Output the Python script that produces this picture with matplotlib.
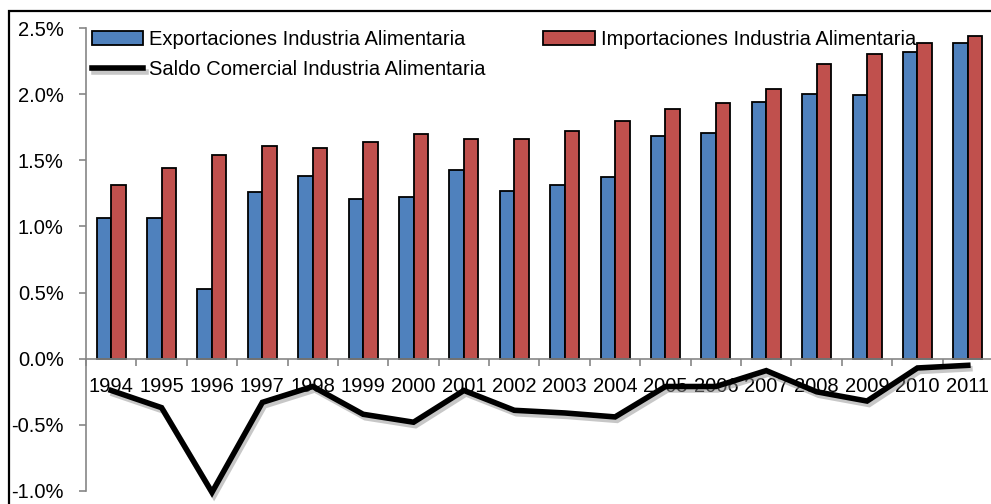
import numpy as np
import matplotlib
matplotlib.use("Agg")
import matplotlib.pyplot as plt
import matplotlib.patheffects as pe
from matplotlib.patches import Rectangle
from matplotlib.ticker import FuncFormatter

plt.rcParams['font.family'] = ['Liberation Sans', 'DejaVu Sans']

# Data (percent)
years = ['1994', '1995', '1996', '1997', '1998', '1999', '2000', '2001', '2002',
         '2003', '2004', '2005', '2006', '2007', '2008', '2009', '2010', '2011']
exportaciones = [1.06, 1.06, 0.53, 1.26, 1.38, 1.21, 1.22, 1.43, 1.27,
                 1.31, 1.37, 1.68, 1.71, 1.94, 2.00, 1.99, 2.32, 2.39]
importaciones = [1.31, 1.44, 1.54, 1.61, 1.59, 1.64, 1.70, 1.66, 1.66,
                 1.72, 1.80, 1.89, 1.93, 2.04, 2.23, 2.30, 2.39, 2.44]
saldo = [-0.24, -0.37, -1.01, -0.33, -0.21, -0.42, -0.48, -0.24, -0.39,
         -0.41, -0.44, -0.21, -0.21, -0.09, -0.25, -0.32, -0.07, -0.05]

blue = '#4F81BD'
red = '#C0504D'
gray = '#868686'
fs = 14.5

fig = plt.figure(figsize=(9.91, 5.04), dpi=100)
ax = fig.add_axes([86 / 991, 1 - 491 / 504, (993 - 86) / 991, (491 - 28) / 504])

x = np.arange(len(years))
w = 0.288
ax.bar(x - w / 2, exportaciones, w, color=blue, edgecolor='black', linewidth=1.3,
       label='Exportaciones Industria Alimentaria', zorder=2)
ax.bar(x + w / 2, importaciones, w, color=red, edgecolor='black', linewidth=1.3,
       label='Importaciones Industria Alimentaria', zorder=2)
ax.plot(x, saldo, color='black', linewidth=4.0, solid_joinstyle='miter', clip_on=False,
        label='Saldo Comercial Industria Alimentaria', zorder=4,
        path_effects=[pe.SimpleLineShadow(offset=(1.5, -2.5), shadow_color='#909090', alpha=0.5),
                      pe.Normal()])

ax.set_xlim(-0.5, len(years) - 0.5)
ax.set_ylim(-1.0, 2.5)
ax.set_yticks(np.arange(-1.0, 2.51, 0.5))
ax.yaxis.set_major_formatter(FuncFormatter(lambda v, p: f'{v:.1f}%'))

ax.set_xticks(x)
ax.set_xticklabels(years)
ax.set_xticks(np.arange(-0.5, len(years), 1), minor=True)

for s in ['top', 'right']:
    ax.spines[s].set_visible(False)
ax.spines['bottom'].set_position(('data', 0))
ax.spines['left'].set_color(gray)
ax.spines['bottom'].set_color(gray)
ax.spines['left'].set_linewidth(1.2)
ax.spines['bottom'].set_linewidth(1.2)

ax.tick_params(axis='y', length=5, width=1.2, color=gray, pad=11, labelsize=fs)
ax.tick_params(axis='x', which='major', length=0, pad=13, labelsize=fs)
ax.tick_params(axis='x', which='minor', length=5, width=1.2, color=gray)

h, l = ax.get_legend_handles_labels()
# order: Export, Saldo (col 1), Import (col 2)
order = [1, 0, 2]
ax.legend([h[i] for i in order], [l[i] for i in order], ncol=2, frameon=False,
          loc='upper left', bbox_to_anchor=(-0.0066, 1.021), fontsize=fs,
          handlelength=2.55, handleheight=0.7, handletextpad=0.3,
          labelspacing=0.55, columnspacing=2.85, borderaxespad=0.2)

# outer chart frame (cropped at right and bottom)
fig.patches.append(Rectangle((9 / 991, -0.1), 1.2, 1.1 - 11 / 504, transform=fig.transFigure,
                             fill=False, edgecolor='black', linewidth=1.6))

fig.savefig('out.png', dpi=100)
